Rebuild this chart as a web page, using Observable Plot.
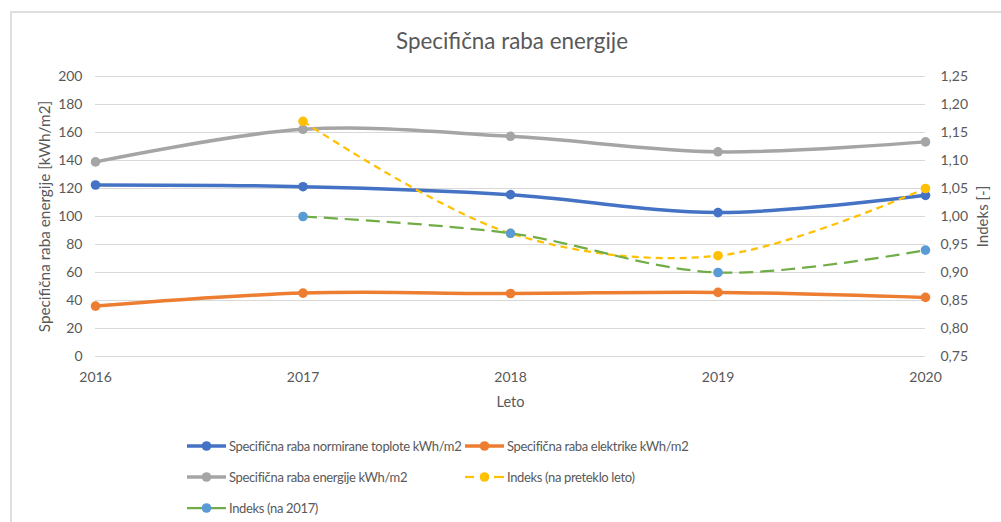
<!DOCTYPE html>
<html>
<head>
<meta charset="utf-8">
<script src="https://cdn.jsdelivr.net/npm/d3@7"></script>
<script src="https://cdn.jsdelivr.net/npm/@observablehq/plot@0.6"></script>
<style>
  html, body { margin: 0; padding: 0; background: #fff; }
  body { width: 1001px; height: 522px; position: relative; overflow: hidden; font-family: Lato, "Open Sans", sans-serif; color: #595959; }
  #frame { position: absolute; left: 10px; top: 11px; width: 1100px; height: 600px; border-left: 2px solid #dedede; border-top: 2px solid #dedede; }
  #title { position: absolute; left: 12px; width: 1000px; top: 26px; line-height: 30px; text-align: center; font-size: 22.4px; color: #595959; }
  #chart { position: absolute; left: 0; top: 60px; }
  .lg { position: absolute; display: flex; align-items: center; font-size: 13px; letter-spacing: -0.35px; color: #595959; white-space: nowrap; }
  .lg svg { margin-right: 3px; }
</style>
</head>
<body>
<div id="frame"></div>
<div id="title">Specifična raba energije</div>
<div id="chart"></div>
<div id="legend"></div>
<script>
// ---- data ----
const years = [2016, 2017, 2018, 2019, 2020];
const toplota = [122.5, 121.3, 115.6, 102.8, 115.1];     // Specifična raba normirane toplote kWh/m2
const elektrika = [36.0, 45.3, 45.0, 45.8, 42.2];        // Specifična raba elektrike kWh/m2
const energija = [139.0, 162.3, 157.3, 146.2, 153.3];    // Specifična raba energije kWh/m2
const indeksPreteklo = [null, 1.17, 0.97, 0.93, 1.05];   // Indeks (na preteklo leto)
const indeks2017 = [null, 1.00, 0.97, 0.90, 0.94];       // Indeks (na 2017)
const leftTicks = [0, 20, 40, 60, 80, 100, 120, 140, 160, 180, 200];
const rightTicks = [0.75, 0.80, 0.85, 0.90, 0.95, 1.00, 1.05, 1.10, 1.15, 1.20, 1.25];

const seriesNames = [
  "Specifična raba normirane toplote kWh/m2",
  "Specifična raba elektrike kWh/m2",
  "Specifična raba energije kWh/m2",
  "Indeks (na preteklo leto)",
  "Indeks (na 2017)"
];
const colors = { blue: "#4472C4", orange: "#ED7D31", gray: "#A5A5A5", yellow: "#FFC000", green: "#70AD47", lightblue: "#5B9BD5" };

// right axis (index) mapped onto left scale: 0.75 -> 0, 1.25 -> 200
const idxToY = v => (v == null ? NaN : (v - 0.75) * 400);
const yToIdx = y => y / 400 + 0.75;

const X = (d, i) => years[i];
const curve = "catmull-rom";

function series(values, color, opts = {}) {
  const y = opts.index ? (d => idxToY(d)) : (d => (d == null ? NaN : d));
  return [
    Plot.line(values, { x: X, y, stroke: opts.lineColor || color, strokeWidth: opts.width || 3.5, strokeDasharray: opts.dash, curve, strokeLinecap: opts.dash ? "butt" : "round" }),
    Plot.dot(values, { x: X, y, r: 4.8, fill: color, stroke: "none" })
  ];
}

const chart = Plot.plot({
  width: 1001,
  height: 362,
  marginLeft: 95,
  marginRight: 76,
  marginTop: 16,
  marginBottom: 66,
  style: { fontFamily: "Lato, 'Open Sans', sans-serif", fontSize: "14px", color: "#595959", background: "transparent", overflow: "visible" },
  x: { type: "linear", domain: [2016, 2020] },
  y: { domain: [0, 200] },
  marks: [
    Plot.gridY(leftTicks, { stroke: "#d9d9d9", strokeOpacity: 1, strokeWidth: 1 }),
    Plot.axisY(leftTicks, { anchor: "left", tickSize: 0, tickPadding: 13, label: null, color: "#595959", fontSize: 14, tickFormat: d => String(d) }),
    Plot.axisY(rightTicks.map(idxToY), { anchor: "right", tickSize: 0, tickPadding: 15, label: null, color: "#595959", fontSize: 14, tickFormat: d => yToIdx(d).toFixed(2).replace(".", ",") }),
    Plot.axisX(years, { tickSize: 0, tickPadding: 16, label: null, color: "#595959", fontSize: 14, tickFormat: d => String(d) }),
    Plot.text(["Specifična raba energije [kWh/m2]"], { text: d => d, frameAnchor: "left", textAnchor: "middle", dx: -50, rotate: -90, fontSize: 15.3, fill: "#595959" }),
    Plot.text(["Indeks [-]"], { text: d => d, frameAnchor: "right", textAnchor: "middle", dx: 58, rotate: -90, fontSize: 15, fill: "#595959" }),
    Plot.text(["Leto"], { text: d => d, frameAnchor: "bottom", dy: 50, fontSize: 14.5, fill: "#595959" }),
    ...series(toplota, colors.blue),
    ...series(elektrika, colors.orange),
    ...series(energija, colors.gray),
    ...series(indeksPreteklo, colors.yellow, { index: true, width: 2.25, dash: "7,5" }),
    ...series(indeks2017, colors.lightblue, { index: true, width: 2.25, dash: "14,7", lineColor: colors.green })
  ]
});
document.getElementById("chart").appendChild(chart);

// ---- legend ----
const legendItems = [
  { name: seriesNames[0], line: colors.blue, dot: colors.blue, left: 187, top: 446 },
  { name: seriesNames[1], line: colors.orange, dot: colors.orange, left: 465, top: 446 },
  { name: seriesNames[2], line: colors.gray, dot: colors.gray, left: 187, top: 477 },
  { name: seriesNames[3], line: colors.yellow, dot: colors.yellow, left: 465, top: 477, dashed: true },
  { name: seriesNames[4], line: colors.green, dot: colors.lightblue, left: 187, top: 508, thin: true }
];
const legend = document.getElementById("legend");
for (const it of legendItems) {
  const div = document.createElement("div");
  div.className = "lg";
  div.style.left = it.left + "px";
  div.style.top = (it.top - 10) + "px";
  div.style.height = "20px";
  let sw;
  if (it.dashed) {
    sw = `<svg width="39" height="12"><line x1="0" y1="6" x2="9" y2="6" stroke="${it.line}" stroke-width="2.25"/><line x1="29" y1="6" x2="39" y2="6" stroke="${it.line}" stroke-width="2.25"/><circle cx="19.5" cy="6" r="4.8" fill="${it.dot}"/></svg>`;
  } else {
    sw = `<svg width="39" height="12"><line x1="0" y1="6" x2="39" y2="6" stroke="${it.line}" stroke-width="${it.thin ? 2.25 : 3.5}"/><circle cx="19.5" cy="6" r="4.8" fill="${it.dot}"/></svg>`;
  }
  div.innerHTML = sw + `<span>${it.name}</span>`;
  legend.appendChild(div);
}
</script>
</body>
</html>
